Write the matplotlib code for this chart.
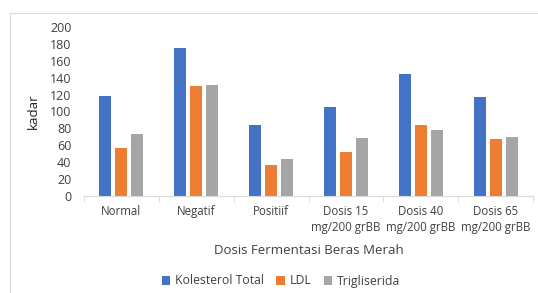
import matplotlib.pyplot as plt
import numpy as np
from matplotlib.patches import Rectangle

categories = ["Normal", "Negatif", "Positiif", "Dosis 15\nmg/200 grBB",
              "Dosis 40\nmg/200 grBB", "Dosis 65\nmg/200 grBB"]
kolesterol = [118, 175, 84, 105, 145, 117]
ldl = [57, 130, 36, 52, 84, 67]
trigliserida = [73, 131, 43, 68, 78, 70]
series_names = ["Kolesterol Total", "LDL", "Trigliserida"]
colors = ["#4472C4", "#ED7D31", "#A5A5A5"]

plt.rcParams['font.family'] = ['Open Sans', 'DejaVu Sans']

fig = plt.figure(figsize=(5.38, 2.93), dpi=100)
# chart border
fig.patches.append(Rectangle((10 / 538, -0.1), 1.1, 1 - 13 / 293 + 0.1,
                             transform=fig.transFigure, fill=False,
                             edgecolor="#D9D9D9", linewidth=0.8))
ax = fig.add_axes([84 / 538, 1 - 195.7 / 293, (533 - 84) / 538, (195.7 - 27.3) / 293])

x = np.arange(len(categories))
w = 0.16
step = 0.213
for i, (vals, name, c) in enumerate(zip([kolesterol, ldl, trigliserida], series_names, colors)):
    ax.bar(x + (i - 1) * step, vals, w, color=c, label=name)

ax.set_xlim(-0.5, len(categories) - 0.5)
ax.set_ylim(0, 200)
ax.set_yticks(range(0, 201, 20))
ax.set_xticks(x)
ax.set_xticklabels(categories, fontsize=8.3, color="#404040", linespacing=1.25)
ax.set_xticks(np.arange(-0.5, len(categories), 1), minor=True)
ax.tick_params(axis='x', which='major', length=0, pad=7)
ax.tick_params(axis='x', which='minor', length=4, color="#D9D9D9")
ax.tick_params(axis='y', length=0, labelsize=9, labelcolor="#404040", pad=9)
for s in ["top", "right", "left"]:
    ax.spines[s].set_visible(False)
ax.spines["bottom"].set_color("#D9D9D9")

ax.set_ylabel("kadar", fontsize=9.5, color="#202020", labelpad=7)
ax.set_xlabel("Dosis Fermentasi Beras Merah", fontsize=9.5, color="#404040", labelpad=7)
fig.legend(loc="center", bbox_to_anchor=(281 / 538, 1 - 281 / 293), ncol=3, frameon=False,
           fontsize=8.8, handlelength=0.7, handleheight=0.7, handletextpad=0.4,
           columnspacing=1.0, labelcolor="#404040")

fig.savefig("out.png", dpi=100)
